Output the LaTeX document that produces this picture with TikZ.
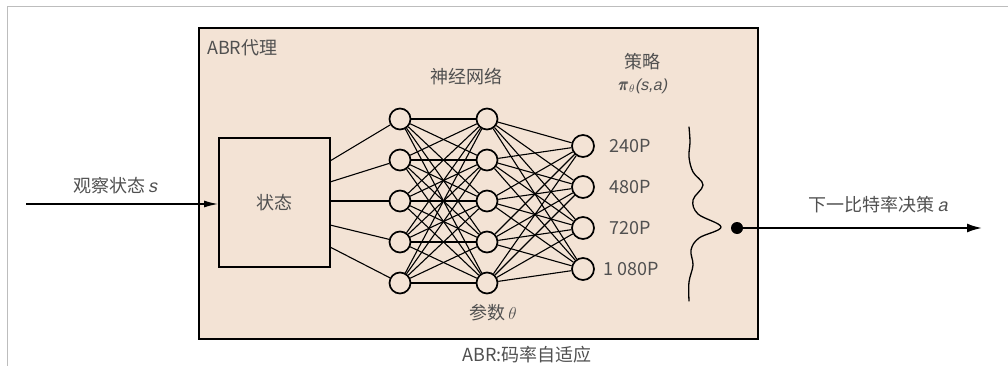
\documentclass[tikz,border=0pt]{standalone}
\usepackage{amsmath}
\usepackage{fontspec}
\setmainfont{Noto Sans CJK SC}
\newfontfamily\slsans[FakeSlant=0.2]{Liberation Sans}
\usetikzlibrary{arrows.meta}
\definecolor{agentbg}{HTML}{F3E3D5}
\definecolor{txt}{HTML}{505050}
\definecolor{framegray}{HTML}{BDBDBD}
\begin{document}
\begin{tikzpicture}[x=1pt,y=-1pt,
  font=\fontsize{18}{21}\selectfont,
  neuron/.style={circle, draw=black, line width=1.7pt, minimum size=21pt, inner sep=0pt},
  outneuron/.style={neuron, minimum size=22pt},
  conn/.style={line width=1.1pt},
  lbl/.style={inner sep=0pt, text=txt},
  inarrow/.style={line width=1.3pt, -{Latex[length=14pt,width=7pt]}},
  outarrow/.style={line width=2pt, -{Latex[length=15pt,width=9pt]}}]
\useasboundingbox (0,0) rectangle (1008,366);
\draw[framegray, line width=1pt] (1008,7) -- (7,7) -- (7,366);
% agent box
\node[draw=black, line width=2.4pt, fill=agentbg, minimum width=559pt, minimum height=311pt,
      anchor=north west, inner sep=0pt] (agent) at (198,27) {};
\node[lbl, anchor=west] (agentlbl) at (207,48) {ABR代理};
% state box
\node[draw=black, line width=1.9pt, minimum width=111pt, minimum height=129pt, inner sep=0pt,
      text=txt] (state) at (274.5,202.5) {\raisebox{-6pt}{状态}};
% neurons
\foreach \i/\y in {1/119,2/160,3/201,4/242,5/283}{
  \node[neuron] (a\i) at (400,\y) {};
  \node[neuron] (b\i) at (487,\y) {};
}
\foreach \i/\y in {1/146,2/187,3/228,4/269}{
  \node[outneuron] (c\i) at (583,\y) {};
}
\foreach \i/\y in {1/161,2/182,3/201,4/225,5/247}{
  \coordinate (s\i) at (330,\y);
  \draw[conn] (s\i) -- (a\i);
}
\foreach \i in {1,...,5}{
  \foreach \j in {1,...,5}{ \draw[conn] (a\i) -- (b\j); }
  \foreach \j in {1,...,4}{ \draw[conn] (b\i) -- (c\j); }
}
% labels
\node[lbl] (nnlbl) at (466,77) {神经网络};
\node[lbl] (pollbl) at (642,62) {策略};
\node[lbl, font=\fontsize{16}{19}\selectfont] (pilbl) at (643,86) {$\pmb{\pi}_{\theta}$\slsans (s,a)};
\node[lbl] (paramlbl) at (493,313) {参数\,$\theta$};
\node[lbl, anchor=west] (o1) at (609,146) {240P};
\node[lbl, anchor=west] (o2) at (609,187) {480P};
\node[lbl, anchor=west] (o3) at (609,228) {720P};
\node[lbl, anchor=west] (o4) at (603,269) {1 080P};
\node[lbl] (caption) at (527,355) {ABR:码率自适应};
% input
\coordinate (in) at (26,204);
\draw[inarrow] (in) -- (state.west |- in);
\node[lbl] (inlbl) at (115,186) {观察状态\,{\slsans s}};
% distribution curve
\draw[line width=1.3pt, line cap=round] plot[smooth, tension=0.6] coordinates {
  (689,127) (690,142) (689,157) (693,172) (703,185) (693,200) (698,214) (721,227)
  (699,238) (691,250) (693,265) (689,282) (689,301)};
% output
\node[circle, fill=black, minimum size=12pt, inner sep=0pt] (dot) at (737,228) {};
\coordinate (out) at (982,228);
\draw[outarrow] (dot.center) -- (out);
\node[lbl] (outlbl) at (878,205) {下一比特率决策\,{\slsans a}};
\end{tikzpicture}
\end{document}
